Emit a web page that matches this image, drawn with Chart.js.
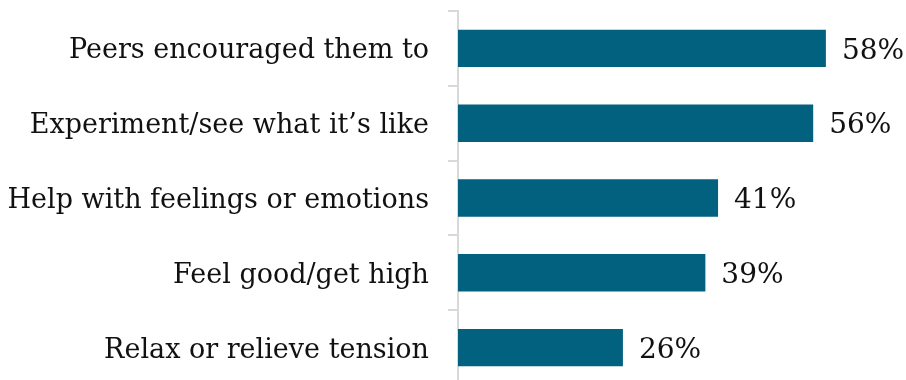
<!DOCTYPE html>
<html>
<head>
<meta charset="utf-8">
<script src="https://cdn.jsdelivr.net/npm/chart.js@4"></script>
<style>
  html, body { margin: 0; padding: 0; background: #fff; overflow: hidden; }
  #wrap { width: 906px; height: 386px; position: relative; }
</style>
</head>
<body>
<div id="wrap"><canvas id="reasonChart"></canvas></div>
<script>
// Dados do gráfico
const categories = [
    "Peers encouraged them to",
    "Experiment/see what it\u2019s like",
    "Help with feelings or emotions",
    "Feel good/get high",
    "Relax or relieve tension"
];
const percents = [58, 56, 41, 39, 26];

const fontFamily = "'DejaVu Serif', serif";

// Rótulos de valor ao lado das barras
const valueLabels = {
    id: "valueLabels",
    afterDatasetsDraw(chart) {
        const ctx = chart.ctx;
        const meta = chart.getDatasetMeta(0);
        ctx.save();
        ctx.font = "28px " + fontFamily;
        ctx.fillStyle = "#111";
        ctx.textAlign = "left";
        ctx.textBaseline = "middle";
        meta.data.forEach((bar, i) => {
            ctx.fillText(percents[i] + "%", bar.x + 16, bar.y + 3);
        });
        ctx.restore();
    }
};

const config = {
    type: "bar",
    data: {
        labels: categories,
        datasets: [{
            data: percents,
            backgroundColor: "#02617f",
            borderWidth: 0,
            barPercentage: 0.5,
            categoryPercentage: 1
        }]
    },
    options: {
        indexAxis: "y",
        responsive: true,
        maintainAspectRatio: false,
        animation: false,
        layout: { padding: { top: 11, bottom: 1, left: 0, right: 4 } },
        plugins: {
            legend: { display: false },
            tooltip: { enabled: false }
        },
        scales: {
            x: {
                display: false,
                min: 0,
                max: 70
            },
            y: {
                afterFit(scale) {
                    scale.width = 458;
                    scale.paddingTop = 0;
                    scale.paddingBottom = 0;
                },
                grid: {
                    display: true,
                    drawOnChartArea: false,
                    drawTicks: true,
                    tickLength: 10,
                    color: "#d9d9d9",
                    lineWidth: 2
                },
                border: { display: true, color: "#d9d9d9", width: 2 },
                ticks: {
                    color: "#111",
                    padding: 19,
                    labelOffset: 3,
                    font: { family: fontFamily, size: 27 }
                }
            }
        }
    },
    plugins: [valueLabels]
};

const reasonChart = new Chart(document.getElementById("reasonChart"), config);
</script>
</body>
</html>
